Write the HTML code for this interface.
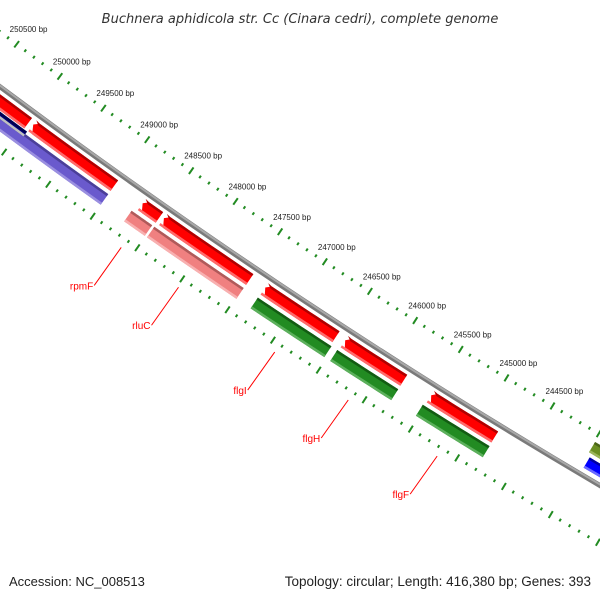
<!DOCTYPE html>
<html><head><meta charset="utf-8"><style>
html,body{margin:0;padding:0;background:#fff;}
svg{display:block;}
text{font-family:"Liberation Sans",sans-serif;}
</style></head><body>
<svg id="map" width="600" height="600" viewBox="0 0 600 600" xmlns="http://www.w3.org/2000/svg">
<text x="300" y="23" text-anchor="middle" font-size="13" font-style="italic" fill="#333" style="font-family:'DejaVu Sans',sans-serif">Buchnera aphidicola str. Cc (Cinara cedri), complete genome</text>
<g id="ruler-outer"></g>
<g id="ruler-inner"></g>
<g id="backbone"></g>
<g id="features"></g>
<g id="labels"></g>
<text x="9" y="586" font-size="13" fill="#222">Accession: NC_008513</text>
<text x="591" y="586" text-anchor="end" font-size="13.5" fill="#222">Topology: circular; Length: 416,380 bp; Genes: 393</text>
</svg>
<script>
// data
const featureStarts = [251500, 249935, 248695, 248456, 247326, 246445, 245506, 243990, 251500, 251500, 248738, 248483, 247331, 246457, 245525, 243960];
const featureEnds   = [249980, 249001, 248494, 247486, 246534, 245793, 244807, 243000, 249001, 249942, 248507, 247488, 246521, 245792, 244804, 243000];
const featureTrack  = [1, 1, 1, 1, 1, 1, 1, 4, 2, 3, 2, 2, 2, 2, 2, 5];
const featureType   = ['cds','cds','cds','cds','cds','cds','cds','olive','purple','navy','pink','pink','green','green','green','blue'];
const labelNames    = ['rpmF', 'rluC', 'flgI', 'flgH', 'flgF'];
const labelFeature  = [10, 11, 12, 13, 14];
const rulerStart = 252000, rulerEnd = 242500, tickStep = 100, majorStep = 500;

// geometry
const CX = 3917, CY = -5155.5, R0 = 6500;
const PHI_MID = Math.atan2(5401.5, -3614);
const K = 53.9 / 500 / R0;
function pt(bp, d) {
  const phi = PHI_MID + (bp - 247250) * K;
  const r = R0 + d;
  return [CX + r * Math.cos(phi), CY + r * Math.sin(phi)];
}
const NS = 'http://www.w3.org/2000/svg';
function mk(tag, attrs, parent) {
  const el = document.createElementNS(NS, tag);
  for (const k in attrs) el.setAttribute(k, attrs[k]);
  parent.appendChild(el);
  return el;
}
const trackD = {1: [50, 63], 2: [67, 80], 3: [64, 70], 4: [9, 21], 5: [25, 37]};
const colors = {
  cds: ['#ff0000', '#b00000', '#ff6a6a'],
  olive: ['#6b8e23', '#4a6418', '#9bb55a'],
  purple: ['#6a5acd', '#4b3f99', '#9a8fe0'],
  navy: ['#000080', '#000050', '#c0c0c0'],
  pink: ['#f08080', '#b05a5a', '#f8b0b0'],
  green: ['#228b22', '#135c13', '#5cb05c'],
  blue: ['#0000ff', '#0000a0', '#6a6aff']
};

// rulers
const rOut = document.getElementById('ruler-outer');
const rIn = document.getElementById('ruler-inner');
for (let bp = rulerStart; bp >= rulerEnd; bp -= tickStep) {
  const major = bp % majorStep === 0;
  const h = major ? 4 : 1.5;
  [[rOut, 0], [rIn, 94]].forEach(([g, d]) => {
    const a = pt(bp, d - h), b = pt(bp, d + h);
    const t = mk('line', {x1: a[0], y1: a[1], x2: b[0], y2: b[1], stroke: '#228b22', 'stroke-width': 2}, g);
    
    
  });
  if (major) {
    const p = pt(bp, 0);
    if (p[0] - 7 + 45 < 600 && p[1] - 12 > 10) {
      const lbl = mk('text', {x: p[0] - 7, y: p[1] - 12, 'font-size': 8, fill: '#222'}, rOut);
      lbl.textContent = bp + ' bp';
      
      
    }
  }
}

// backbone
const bbg = document.getElementById('backbone');
function arcPath(d) {
  let s = '';
  for (let bp = rulerStart; bp >= rulerEnd; bp -= 250) {
    const p = pt(bp, d);
    s += (s ? 'L' : 'M') + p[0].toFixed(2) + ' ' + p[1].toFixed(2);
  }
  return s;
}
const bb1 = mk('path', {d: arcPath(44), stroke: '#7a7a7a', 'stroke-width': 5, fill: 'none'}, bbg);


const bb2 = mk('path', {d: arcPath(43), stroke: '#a8a8a8', 'stroke-width': 2, fill: 'none'}, bbg);



// features
const fg = document.getElementById('features');
function band(s, e, d1, d2, arrow) {
  const pts = [];
  const n = 12;
  const aLen = 45;
  const s2 = arrow ? s - aLen : s;
  for (let i = 0; i <= n; i++) pts.push(pt(s2 + (e - s2) * i / n, d1));
  for (let i = n; i >= 0; i--) pts.push(pt(s2 + (e - s2) * i / n, d2));
  if (arrow) pts.push(pt(s, (d1 + d2) / 2 - 2));
  return pts.map(p => p[0].toFixed(2) + ',' + p[1].toFixed(2)).join(' ');
}
for (let i = 0; i < featureStarts.length; i++) {
  const [d1, d2] = trackD[featureTrack[i]];
  const c = colors[featureType[i]];
  const arrow = featureType[i] === 'cds';
  const g = mk('g', {}, fg);
  
  
  mk('polygon', {points: band(featureStarts[i], featureEnds[i], d1, d2, arrow), fill: c[0]}, g);
  mk('polygon', {points: band(featureStarts[i], featureEnds[i], d1, d1 + 2.5, arrow), fill: c[1]}, g);
  mk('polygon', {points: band(featureStarts[i], featureEnds[i], d2 - 2.5, d2, false), fill: c[2]}, g);
}

// labels
const lg = document.getElementById('labels');
labelNames.forEach((name, j) => {
  const f = labelFeature[j];
  const mid = (featureStarts[f] + featureEnds[f]) / 2;
  const a = pt(mid, 103);
  const b = [a[0] - 27, a[1] + 38];
  const ln = mk('line', {x1: a[0], y1: a[1], x2: b[0], y2: b[1], stroke: '#ff0000', 'stroke-width': 1}, lg);
  
  
  const t = mk('text', {x: b[0] - 1, y: b[1] + 4, 'text-anchor': 'end', 'font-size': 10, fill: '#ff0000'}, lg);
  t.textContent = name;
  
  
});
</script>
</body></html>
